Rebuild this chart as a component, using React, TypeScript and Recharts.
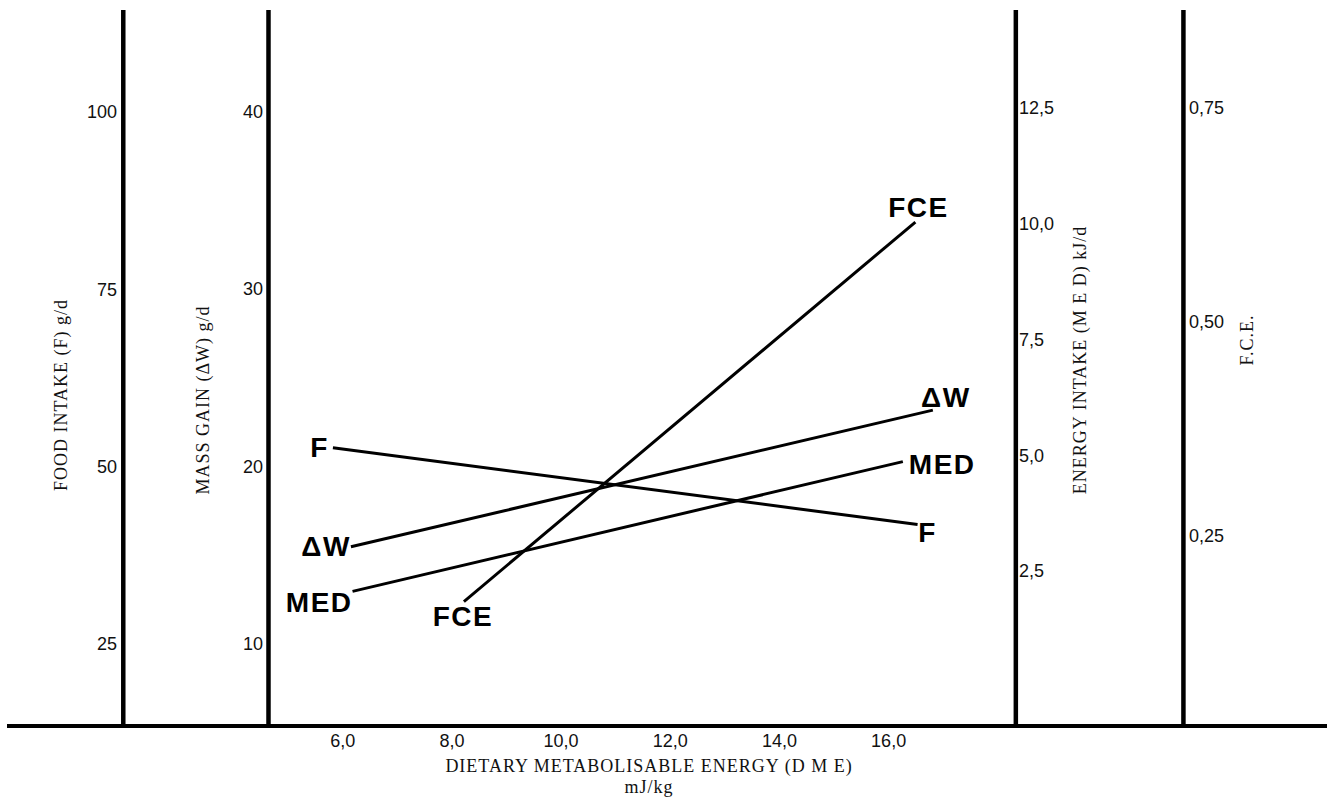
import { LineChart, Line, XAxis, YAxis, ReferenceLine } from 'recharts';

// dietary metabolisable energy (mJ/kg) at the ends of each line
const dmeF = [5.82, 16.53];
const dmeW = [6.15, 16.81];
const dmeMED = [6.18, 16.26];
const dmeFCE = [8.22, 16.49];

// values
const foodIntake = [52.7, 41.9]; // g/d
const massGain = [15.5, 23.2]; // g/d
const energyIntake = [2.07, 4.87]; // kJ/d
const fceValues = [0.174, 0.617];

const dmeTicks = [6, 8, 10, 12, 14, 16];
const foodTicks = [25, 50, 75, 100];
const massTicks = [10, 20, 30, 40];
const energyTicks = [2.5, 5, 7.5, 10, 12.5];
const fceTicks = [0.25, 0.5, 0.75];

const toRows = (xs: number[], ys: number[]) => xs.map((x, i) => ({ dme: x, value: ys[i] }));

const fData = toRows(dmeF, foodIntake);
const wData = toRows(dmeW, massGain);
const medData = toRows(dmeMED, energyIntake);
const fceData = toRows(dmeFCE, fceValues);

// where the four vertical axes stand on the DME scale
const AXIS_AT = { food: 1.98, mass: 4.64, energy: 18.33, fce: 21.4 };

const comma = (d: number) => (v: number) => v.toFixed(d).replace('.', ',');

const SANS = '"Liberation Sans", Arial, sans-serif';
const SERIF = '"Liberation Serif", "Times New Roman", serif';

const yTick = (x: number, anchor: 'start' | 'end', fmt: (v: number) => string) => (props: any) => (
  <text
    key={props.index}
    x={x}
    y={props.y}
    textAnchor={anchor}
    dominantBaseline="central"
    fontSize={18}
    fontFamily={SANS}
    fill="#111"
  >
    {fmt(props.payload.value)}
  </text>
);

type Off = { dx: number; dy: number; anchor: 'start' | 'middle' | 'end' };

const endLabel = (text: string, offs: Off[]) => (props: any) => {
  const o = offs[props.index];
  if (!o) return null;
  return (
    <text
      key={text + props.index}
      x={props.x + o.dx}
      y={props.y + o.dy}
      textAnchor={o.anchor}
      dominantBaseline="central"
      fontSize={28}
      fontWeight="bold"
      fontFamily={SANS}
      letterSpacing={1.5}
      fill="#000"
    >
      {text}
    </text>
  );
};

const yAxisCommon = {
  type: 'number' as const,
  allowDataOverflow: true,
  mirror: true,
  width: 1,
  axisLine: false,
  tickLine: false,
  interval: 0 as const,
};

export default function App() {
  return (
    <div style={{ position: 'absolute', left: 0, top: 0, width: 1332, height: 802, background: '#fff' }}>
      <LineChart width={1332} height={802} margin={{ top: 10, right: 5, bottom: 46, left: 7 }}>
        <XAxis
          type="number"
          dataKey="dme"
          domain={[-0.15, 24.03]}
          allowDataOverflow
          ticks={dmeTicks}
          interval={0}
          tickFormatter={comma(1)}
          tickLine={false}
          axisLine={{ stroke: '#000', strokeWidth: 4 }}
          tick={{ fill: '#111', fontSize: 18, fontFamily: SANS }}
          height={30}
        />
        <YAxis {...yAxisCommon} yAxisId="food" domain={[13.5, 114.4]} ticks={foodTicks} tick={yTick(117, 'end', (v) => String(v))} />
        <YAxis {...yAxisCommon} yAxisId="mass" domain={[5.4, 45.75]} ticks={massTicks} tick={yTick(263, 'end', (v) => String(v))} />
        <YAxis {...yAxisCommon} yAxisId="energy" domain={[-0.833, 14.61]} ticks={energyTicks} tick={yTick(1019, 'start', comma(1))} />
        <YAxis {...yAxisCommon} yAxisId="fce" domain={[0.0288, 0.8645]} ticks={fceTicks} tick={yTick(1189, 'start', comma(2))} />

        <ReferenceLine x={AXIS_AT.food} yAxisId="mass" stroke="#000" strokeWidth={4.5} />
        <ReferenceLine x={AXIS_AT.mass} yAxisId="mass" stroke="#000" strokeWidth={4.5} />
        <ReferenceLine x={AXIS_AT.energy} yAxisId="mass" stroke="#000" strokeWidth={4.5} />
        <ReferenceLine x={AXIS_AT.fce} yAxisId="mass" stroke="#000" strokeWidth={4.5} />

        <Line
          yAxisId="food"
          data={fData}
          dataKey="value"
          stroke="#000"
          strokeWidth={3}
          dot={false}
          isAnimationActive={false}
          label={endLabel('F', [
            { dx: -4, dy: 0, anchor: 'end' },
            { dx: 10, dy: 8, anchor: 'middle' },
          ])}
        />
        <Line
          yAxisId="mass"
          data={wData}
          dataKey="value"
          stroke="#000"
          strokeWidth={3}
          dot={false}
          isAnimationActive={false}
          label={endLabel('ΔW', [
            { dx: 0, dy: 0, anchor: 'end' },
            { dx: 13, dy: -13, anchor: 'middle' },
          ])}
        />
        <Line
          yAxisId="energy"
          data={medData}
          dataKey="value"
          stroke="#000"
          strokeWidth={3}
          dot={false}
          isAnimationActive={false}
          label={endLabel('MED', [
            { dx: 0, dy: 11, anchor: 'end' },
            { dx: 6, dy: 3, anchor: 'start' },
          ])}
        />
        <Line
          yAxisId="fce"
          data={fceData}
          dataKey="value"
          stroke="#000"
          strokeWidth={3}
          dot={false}
          isAnimationActive={false}
          label={endLabel('FCE', [
            { dx: -1, dy: 15, anchor: 'middle' },
            { dx: 3, dy: -15, anchor: 'middle' },
          ])}
        />
      </LineChart>

      <svg
        width={1332}
        height={802}
        style={{ position: 'absolute', left: 0, top: 0, pointerEvents: 'none' }}
      >
        <g fontFamily={SERIF} fontSize={18} letterSpacing={1} fill="#111" textAnchor="middle">
          <text transform="translate(61,395) rotate(-90)" dominantBaseline="central">FOOD INTAKE (F) g/d</text>
          <text transform="translate(203,400) rotate(-90)" dominantBaseline="central">MASS GAIN (ΔW)  g/d</text>
          <text transform="translate(1080,360) rotate(-90)" dominantBaseline="central">ENERGY INTAKE (M E D)  kJ/d</text>
          <text transform="translate(1247,340) rotate(-90)" dominantBaseline="central">F.C.E.</text>
          <text x={649} y={772}>DIETARY METABOLISABLE ENERGY (D M E)</text>
          <text x={649} y={793}>mJ/kg</text>
        </g>
      </svg>
    </div>
  );
}
